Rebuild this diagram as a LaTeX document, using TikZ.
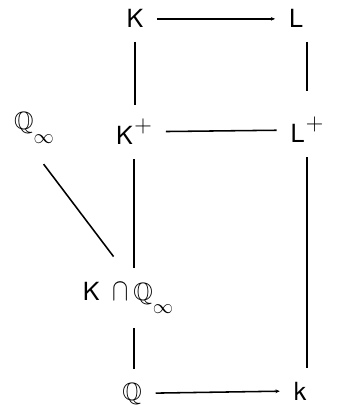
\documentclass[tikz,border=0pt]{standalone}
\usepackage{amsmath}
\usepackage{amssymb}
\usepackage{fontspec}
\setmainfont{TeX Gyre Heros}
\usetikzlibrary{arrows.meta}

\newcommand{\upplus}{\hspace{0.06em}\raisebox{0.5em}{$+$}}
\newcommand{\dninf}{\raisebox{-0.55em}{\fontsize{15}{15}\selectfont$\infty$}}

\begin{document}
\begin{tikzpicture}[
  x=0.025cm, y=-0.025cm,
  fld/.style={inner sep=0pt, outer sep=0.35cm, anchor=base,
              font=\fontsize{17.8}{20}\selectfont},
  ln/.style={line width=1.1pt},
  inc/.style={line width=1.1pt, -{Stealth[length=3pt,width=2.6pt]}}
]
\useasboundingbox (0,0) rectangle (339,405);

% ---- fields ----
\node[fld] (nK)    at (135,28)  {K};
\node[fld] (nL)    at (296,28)  {L};
\node[fld] (nKp)   at (134,145) {K\upplus};
\node[fld] (nLp)   at (307,143) {L\upplus};
\node[fld] (nQinf) at (34,130)  {$\mathbb{Q}$\dninf};
\node[fld] (nKQ)   at (128,300) {K\hspace{0.5em}\scalebox{1}[1.3]{$\cap$}\hspace{0.2em}$\mathbb{Q}$\dninf};
\node[fld] (nQ)    at (132,400) {$\mathbb{Q}$};
\node[fld] (nk)    at (300,400) {k};

% ---- horizontal ----
\draw[inc] (nK) -- (nL);
\draw[ln]  (nKp) -- (nLp);
\draw[inc] (nQ) -- (nk);

% ---- left column ----
\draw[ln] (nK.south) -- (nK.south |- nKp.north);
\draw[ln] (nKp.south) -- (nKp.south |- nKQ.north);
\draw[ln] (nKQ.south -| nKp) -- (nQ.north -| nKp);
\draw[ln, shorten <=0.2cm, shorten >=0.35cm] ([xshift=0.12cm]nQinf.south) -- ([xshift=-0.15cm]nKQ.north);

% ---- right column ----
\draw[ln, shorten >=0.3cm] (nL.south -| nLp) -- (nLp.north);
\draw[ln] (nLp.south) -- (nk.north -| nLp);

\end{tikzpicture}
\end{document}
